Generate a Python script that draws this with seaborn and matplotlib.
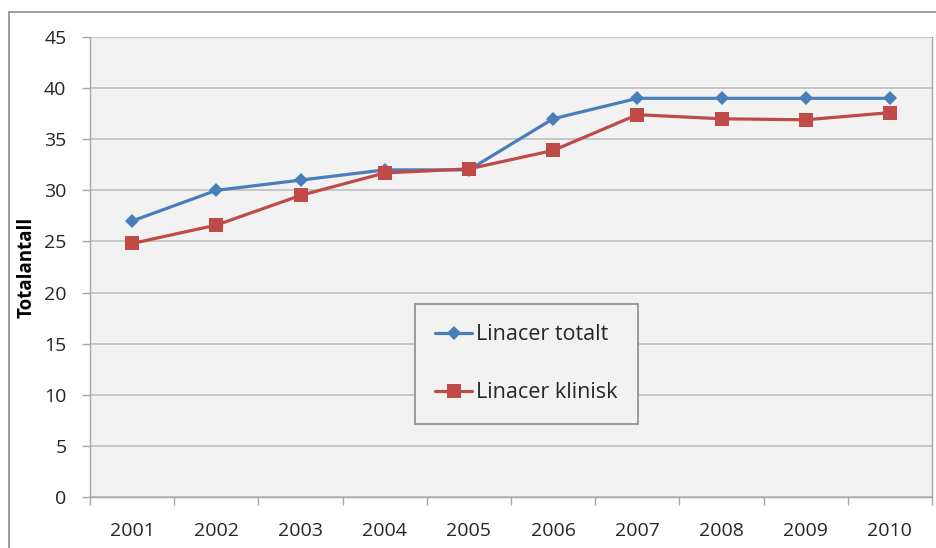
import matplotlib
matplotlib.use("Agg")
import matplotlib.pyplot as plt
from matplotlib.patches import Rectangle
from matplotlib.ticker import FixedLocator, MultipleLocator
import pandas as pd
import seaborn as sns

years = ["2001", "2002", "2003", "2004", "2005", "2006", "2007", "2008", "2009", "2010"]
linacer_totalt = [27, 30, 31, 32, 32, 37, 39, 39, 39, 39]
linacer_klinisk = [24.8, 26.6, 29.5, 31.7, 32.1, 33.9, 37.4, 37.0, 36.9, 37.6]
series_names = ["Linacer totalt", "Linacer klinisk"]

df = pd.DataFrame({
    "year": years * 2,
    "value": linacer_totalt + linacer_klinisk,
    "series": [series_names[0]] * len(years) + [series_names[1]] * len(years),
})

sns.set_theme(style="white")
plt.rcParams["font.family"] = ["Open Sans", "DejaVu Sans"]

fig = plt.figure(figsize=(9.36, 5.48), dpi=100)
ax = fig.add_axes([90 / 936, 1 - 497 / 548, 842 / 936, 460 / 548])

palette = {series_names[0]: "#4A7EBB", series_names[1]: "#BE4B48"}
markers = {series_names[0]: "D", series_names[1]: "s"}
sizes = {series_names[0]: 7.5, series_names[1]: 9.5}

for name in series_names:
    sub = df[df["series"] == name]
    sns.lineplot(data=sub, x="year", y="value", ax=ax, color=palette[name],
                 marker=markers[name], markersize=sizes[name], linewidth=2.3,
                 markeredgewidth=0, label=name, sort=False)

ax.set_facecolor("#F2F2F2")
ax.set_ylim(0, 45)
ax.set_xlim(-0.5, len(years) - 0.5)
ax.yaxis.set_major_locator(MultipleLocator(5))
ax.grid(axis="y", color="#BFBFBF", linewidth=1.2)
ax.grid(axis="x", visible=False)
ax.set_axisbelow(True)

for side in ["left", "bottom", "right", "top"]:
    ax.spines[side].set_color("#A6A6A6")
    ax.spines[side].set_linewidth(1.0)
ax.spines["top"].set_visible(False)

text_color = "#262626"
ax.xaxis.set_minor_locator(FixedLocator([i - 0.5 for i in range(len(years) + 1)]))
ax.tick_params(axis="x", which="major", length=0, pad=18, labelsize=14, labelcolor=text_color)
ax.tick_params(axis="x", which="minor", bottom=True, length=6, width=1, color="#A6A6A6")
ax.tick_params(axis="y", which="major", left=True, length=6, width=1, color="#A6A6A6",
               pad=11, labelsize=14, labelcolor=text_color)

ax.set_xlabel("")
ax.set_ylabel("Totalantall", fontsize=13.5, fontweight="bold", color="#000000")
ax.yaxis.set_label_coords(-0.075, 0.5)
ax.yaxis.label.set_verticalalignment("center")

leg = ax.legend(loc="upper left", bbox_to_anchor=(0.386, 0.4196), fontsize=15.5,
                frameon=True, fancybox=False, edgecolor="#8C8C8C",
                facecolor="#F2F2F2", framealpha=1, labelspacing=1.72,
                handlelength=1.72, handletextpad=0.15, borderpad=0.95,
                borderaxespad=0)
leg.get_frame().set_linewidth(1.2)
for t in leg.get_texts():
    t.set_color(text_color)

# outer chart border
fig.patches.append(Rectangle((9 / 936, -0.1), 1.2, 1.1 - 12 / 548,
                             transform=fig.transFigure, fill=False,
                             edgecolor="#8C8C8C", linewidth=1.2))

fig.savefig("out.png", dpi=100, facecolor="white")
